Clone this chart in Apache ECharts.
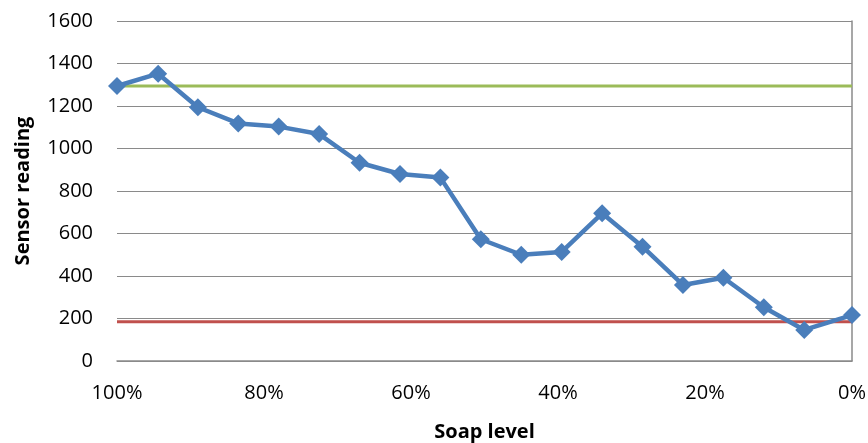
<!DOCTYPE html>
<html>
<head>
<meta charset="utf-8">
<script src="https://cdn.jsdelivr.net/npm/echarts@6/dist/echarts.min.js"></script>
<style>
  html, body { margin: 0; padding: 0; background: #fff; }
  #chart { width: 868px; height: 443px; }
</style>
</head>
<body>
<div id="chart"></div>
<script>
// Soap level (%) at each measurement, from full to empty
const soapLevel = [100, 94.4, 89.0, 83.5, 78.0, 72.5, 67.0, 61.5, 56.0, 50.5,
                   45.0, 39.5, 34.0, 28.5, 23.0, 17.5, 12.0, 6.5, 0];
// Sensor reading recorded at each soap level
const sensorReading = [1294, 1352, 1194, 1118, 1103, 1068, 933, 880, 863, 573,
                       500, 513, 695, 538, 358, 392, 253, 146, 216];
// Reference levels: full-tank reading and empty threshold
const fullLevel = [1294, 1294];
const emptyLevel = [185, 185];
const levelSpan = [100, 0];
// Axis tick settings
const yTicks = { min: 0, max: 1600, step: 200 };
const xTicks = { min: 0, max: 100, step: 20 };

const chart = echarts.init(document.getElementById('chart'));
const font = '"Open Sans", "Liberation Sans", sans-serif';
const gray = '#8a8a8a';

chart.setOption({
  animation: false,
  grid: { left: 117, right: 16, top: 21, bottom: 82, outerBoundsMode: 'none', containLabel: false },
  xAxis: {
    type: 'value',
    inverse: true,
    min: xTicks.min, max: xTicks.max, interval: xTicks.step,
    name: 'Soap level',
    nameLocation: 'middle',
    nameGap: 61,
    nameTextStyle: { fontFamily: font, fontWeight: 'bold', fontSize: 20, color: '#000' },
    axisLine: { lineStyle: { color: gray, width: 1.5 } },
    axisTick: { show: false },
    splitLine: { show: false },
    axisLabel: { formatter: v => v + '%', fontFamily: font, fontSize: 20, color: '#000', margin: 22 }
  },
  yAxis: {
    type: 'value',
    min: yTicks.min, max: yTicks.max, interval: yTicks.step,
    name: 'Sensor reading',
    nameLocation: 'middle',
    nameGap: 84,
    nameTextStyle: { fontFamily: font, fontWeight: 'bold', fontSize: 20, color: '#000' },
    axisLine: { show: true, lineStyle: { color: gray, width: 1.5 } },
    axisTick: { show: false },
    splitLine: { lineStyle: { color: gray, width: 1.2 } },
    axisLabel: { formatter: v => String(v), fontFamily: font, fontSize: 20, color: '#000', margin: 24 }
  },
  series: [
    {
      type: 'line',
      data: levelSpan.map((x, i) => [x, fullLevel[i]]),
      symbol: 'none',
      lineStyle: { color: '#9bbb59', width: 3 },
      z: 2
    },
    {
      type: 'line',
      data: levelSpan.map((x, i) => [x, emptyLevel[i]]),
      symbol: 'none',
      lineStyle: { color: '#c0504d', width: 3 },
      z: 2
    },
    {
      type: 'line',
      data: soapLevel.map((x, i) => [x, sensorReading[i]]),
      symbol: 'diamond',
      symbolSize: 18,
      itemStyle: { color: '#4a7ebb' },
      lineStyle: { color: '#4a7ebb', width: 4.5 },
      z: 3
    }
  ]
});
</script>
</body>
</html>
